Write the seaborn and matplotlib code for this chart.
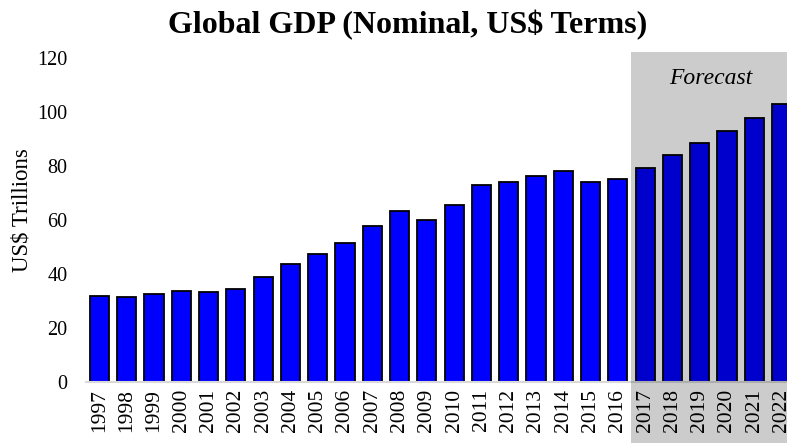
import matplotlib
matplotlib.use("Agg")
import matplotlib.pyplot as plt
import seaborn as sns
import pandas as pd
from matplotlib.patches import Rectangle

years = [str(y) for y in range(1997, 2023)]
gdp = [31.7, 31.4, 32.6, 33.8, 33.4, 34.5, 38.8, 43.7, 47.4, 51.3, 57.8, 63.4,
       59.9, 65.7, 72.8, 74.2, 76.3, 78.3, 73.9, 75.1,
       79.1, 84.1, 88.6, 93.1, 97.8, 102.8]
first_forecast = "2017"

df = pd.DataFrame({"year": years, "gdp": gdp})

sns.set_style("white")
plt.rcParams["font.family"] = ["Liberation Serif", "DejaVu Serif"]
plt.rcParams.update({"text.color": "black", "axes.labelcolor": "black",
                     "xtick.color": "black", "ytick.color": "black"})

fig = plt.figure(figsize=(7.87, 4.43), dpi=100)
ax = fig.add_axes([0.109, 0.138, 0.891, 0.731])
ax.patch.set_alpha(0)

sns.barplot(data=df, x="year", y="gdp", color="#0000FF", saturation=1,
            edgecolor="black", linewidth=1.3, width=0.7, ax=ax)

ax.set_xlim(-0.5, 25.2)
ax.set_ylim(0, 120)
ax.set_yticks(range(0, 121, 20))
ax.set_xlabel("")
ax.set_ylabel("US$ Trillions", fontsize=16.5, va="center")
ax.yaxis.set_label_coords(-0.091, 0.53)
ax.tick_params(axis="y", labelsize=14.5, length=0, pad=13)
ax.tick_params(axis="x", labelsize=15.5, length=0, rotation=90, pad=5)
for s in ["top", "right", "left"]:
    ax.spines[s].set_visible(False)
ax.spines["bottom"].set_color("#D9D9D9")
ax.spines["bottom"].set_linewidth(1.5)

fig.suptitle("Global GDP (Nominal, US$ Terms)", fontsize=23, fontweight="bold",
             x=0.518, y=0.978)

# forecast shading: from between 2016 and 2017 to the right edge, down to figure bottom
idx = years.index(first_forecast) - 0.5
x0_disp = ax.transData.transform((idx, 0))[0]
x0 = fig.transFigure.inverted().transform((x0_disp, 0))[0]
top = 1 - 52 / 443
fig.patches.append(Rectangle((x0, 0), 1 - x0, top, transform=fig.transFigure,
                             facecolor="black", alpha=0.2, edgecolor="none", zorder=10))
fig.text(711 / 787, 1 - 78 / 443, "Forecast", fontsize=17, style="italic",
         ha="center", va="center")

fig.savefig("out.png", dpi=100)
